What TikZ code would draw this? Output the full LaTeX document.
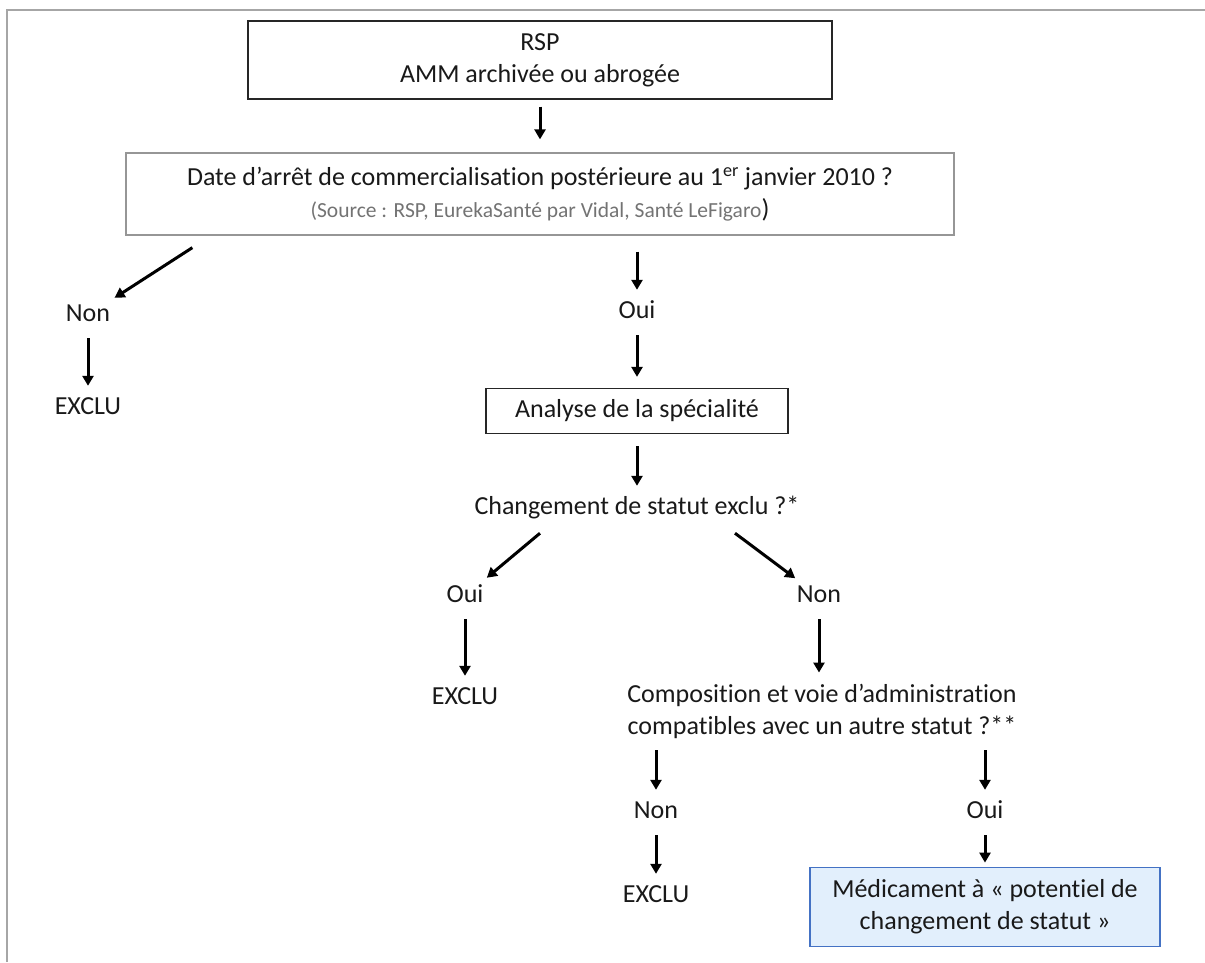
\documentclass[tikz,border=0pt]{standalone}
\usepackage{fontspec}
\setmainfont[Ligatures=NoCommon]{Carlito}
\definecolor{framegray}{RGB}{166,166,166}
\definecolor{boxgray}{RGB}{150,150,150}
\definecolor{srcgray}{RGB}{115,115,115}
\definecolor{potblue}{RGB}{68,114,196}
\definecolor{potlight}{RGB}{226,239,252}
\usetikzlibrary{arrows.meta}

\begin{document}
\begin{tikzpicture}[
  x=1pt, y=-1pt,
  every node/.style={font=\fontsize{26}{32}\selectfont, text=black!90},
  box/.style={rectangle, draw=black!85, line width=1.3pt, align=center, inner sep=0pt},
  lbl/.style={inner sep=0pt, text height=17pt, text depth=5pt},
  arr/.style={-{Triangle[length=10pt,width=11pt]}, line width=3pt, shorten <=12pt, shorten >=11pt}
]
  \useasboundingbox (0,0) rectangle (1205,962);
  \draw[framegray, line width=1.2pt] (7,962) -- (7,10) -- (1205,10);

  \node[box, minimum width=584pt, minimum height=78pt] (rsp) at (540,60) {RSP\\AMM archivée ou abrogée};
  \node[box, draw=boxgray, minimum width=828pt, minimum height=82pt] (date) at (540,194)
    {Date d’arrêt de commercialisation postérieure au 1\textsuperscript{er} janvier 2010 ?\\{\color{srcgray}\fontsize{21.5}{25}\selectfont (Source : RSP, EurekaSanté par Vidal, Santé LeFigaro})};
  \node[lbl] (non1) at (88,315) {Non};
  \node[lbl] (exclu1) at (88,408) {EXCLU};
  \node[lbl] (oui1) at (637,312) {Oui};
  \node[box, minimum width=302pt, minimum height=45pt] (analyse) at (637,411) {Analyse de la spécialité};
  \node[lbl] (chg) at (637,508) {Changement de statut exclu ?*};
  \node[lbl] (oui2) at (465,596) {Oui};
  \node[lbl] (exclu2) at (465,698) {EXCLU};
  \node[lbl] (non2) at (819,596) {Non};
  \node[inner sep=0pt, align=center] (compo) at (822,711) {Composition et voie d’administration\\compatibles avec un autre statut ?**};
  \node[lbl] (non3) at (656,812) {Non};
  \node[lbl] (exclu3) at (656,896) {EXCLU};
  \node[lbl] (oui3) at (985,812) {Oui};
  \node[box, draw=potblue, fill=potlight, line width=1.8pt, minimum width=350pt, minimum height=79pt] (pot) at (985,907)
    {Médicament à «~potentiel de\\changement de statut~»};

  \draw[arr, shorten <=7pt, shorten >=13pt] (rsp) -- (date);
  \draw[arr, shorten <=0pt] ([shift={(67,12)}]date.south west) -- (non1);
  \draw[arr] (non1) -- (exclu1);
  \draw[arr, shorten <=16pt] (date.south -| oui1) -- (oui1);
  \draw[arr] (oui1) -- (analyse);
  \draw[arr] (analyse) -- (chg);
  \draw[arr, shorten <=0pt] ([shift={(-97,14)}]chg.south) -- (oui2);
  \draw[arr, shorten <=0pt] ([shift={(98,14)}]chg.south) -- (non2);
  \draw[arr] (oui2) -- (exclu2);
  \draw[arr] (non2) -- (non2 |- compo.north);
  \draw[arr] (compo.south -| non3) -- (non3);
  \draw[arr] (non3) -- (exclu3);
  \draw[arr] (compo.south -| oui3) -- (oui3);
  \draw[arr, shorten >=4pt] (oui3) -- (pot);
\end{tikzpicture}
\end{document}
